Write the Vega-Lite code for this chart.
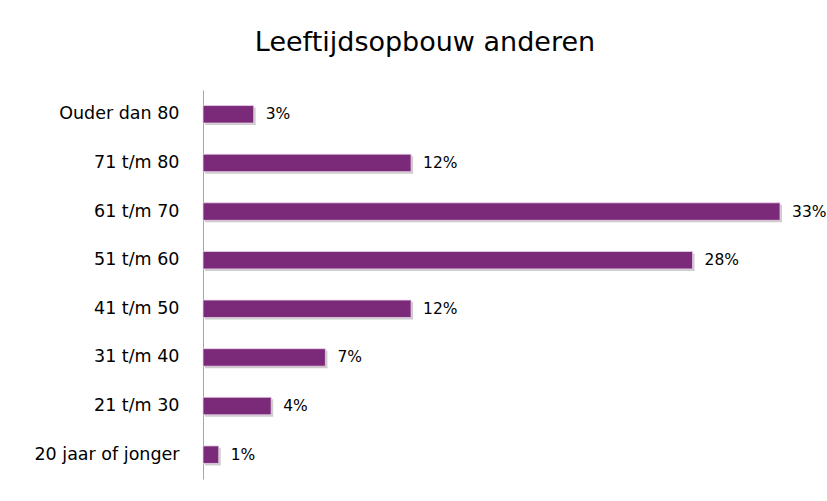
{
  "$schema": "https://vega.github.io/schema/vega-lite/v6.json",
  "width": 612,
  "height": 389,
  "autosize": {"type": "none"},
  "padding": {"left": 203, "top": 90, "right": 12, "bottom": 22},
  "background": "white",
  "title": {
    "text": "Leeftijdsopbouw anderen",
    "font": "DejaVu Sans",
    "fontSize": 27,
    "fontWeight": "normal",
    "color": "#000000",
    "anchor": "middle",
    "dx": -84,
    "offset": 33
  },
  "data": {
    "values": [
      {"groep": "Ouder dan 80", "aandeel": 2.9, "label": "3%"},
      {"groep": "71 t/m 80", "aandeel": 11.9, "label": "12%"},
      {"groep": "61 t/m 70", "aandeel": 33.0, "label": "33%"},
      {"groep": "51 t/m 60", "aandeel": 28.0, "label": "28%"},
      {"groep": "41 t/m 50", "aandeel": 11.9, "label": "12%"},
      {"groep": "31 t/m 40", "aandeel": 7.0, "label": "7%"},
      {"groep": "21 t/m 30", "aandeel": 3.9, "label": "4%"},
      {"groep": "20 jaar of jonger", "aandeel": 0.9, "label": "1%"}
    ]
  },
  "encoding": {
    "y": {
      "field": "groep",
      "type": "nominal",
      "sort": null,
      "scale": {"paddingInner": 0.64, "paddingOuter": 0.32},
      "axis": {
        "title": null,
        "ticks": false,
        "domainColor": "#a6a6a6",
        "labelFont": "DejaVu Sans",
        "labelFontSize": 17.5,
        "labelColor": "#000000",
        "labelPadding": 24
      }
    },
    "x": {
      "field": "aandeel",
      "type": "quantitative",
      "scale": {"domain": [0, 35]},
      "axis": null
    }
  },
  "layer": [
    {
      "mark": {"type": "bar", "color": "#b8b8b8", "opacity": 0.7, "xOffset": 2, "yOffset": 2}
    },
    {
      "mark": {"type": "bar", "color": "#7b2a7a", "stroke": "#e8d3e8", "strokeWidth": 0.8}
    },
    {
      "mark": {"type": "text", "align": "left", "dx": 12, "font": "DejaVu Sans", "fontSize": 15.5, "color": "#000000"},
      "encoding": {"text": {"field": "label"}}
    }
  ],
  "config": {"view": {"stroke": null}}
}
